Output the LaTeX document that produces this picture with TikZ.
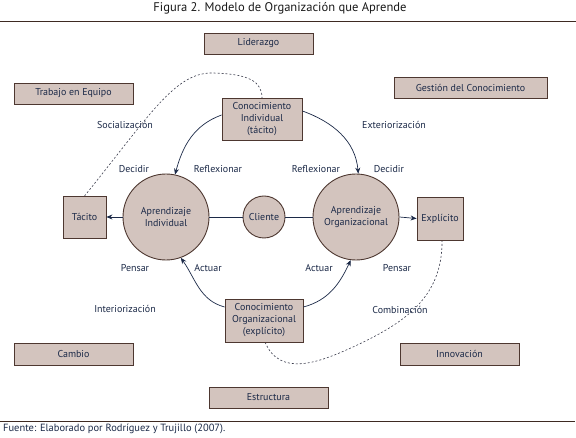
\documentclass[tikz,border=0pt]{standalone}
\usepackage{fontspec}
\setmainfont{PT Sans}
\usetikzlibrary{arrows.meta}
\definecolor{boxfill}{RGB}{211,196,190}
\definecolor{boxdraw}{RGB}{77,55,48}
\definecolor{navy}{RGB}{28,42,72}
\definecolor{rulec}{RGB}{62,42,34}
\definecolor{dashc}{RGB}{60,62,78}
\tikzset{
  base/.style={font=\fontsize{10}{12}\selectfont, text=navy, align=center, inner sep=0pt},
  boxn/.style={base, draw=boxdraw, fill=boxfill, line width=0.9pt, rectangle},
  circn/.style={base, draw=boxdraw, fill=boxfill, line width=0.9pt, circle},
  lbl/.style={base},
  arr/.style={draw=navy, line width=0.7pt, -{Stealth[length=6pt,width=5pt]}},
  link/.style={draw=navy, line width=0.7pt},
  dashline/.style={draw=dashc, line width=0.6pt, dash pattern=on 2pt off 2pt}
}
\begin{document}
\begin{tikzpicture}[x=1bp,y=-1bp]
\useasboundingbox[fill=white] (0,0) rectangle (576,438);
% title and rules
\node[font=\fontsize{12.6}{14}\selectfont, text=black!90, inner sep=0pt] (title) at (280,8) {Figura 2. Modelo de Organización que Aprende};
\draw[rulec, line width=0.9pt] (0,21) -- (576,21);
\draw[rulec, line width=0.9pt] (0,421) -- (575,421);
\node[base, font=\fontsize{10.5}{12}\selectfont, anchor=west] (src) at (3,428.5) {Fuente: Elaborado por Rodríguez y Trujillo (2007).};
% outer boxes
\node[boxn, minimum width=109bp, minimum height=21bp] (lid) at (258.5,43.5) {Liderazgo};
\node[boxn, minimum width=119bp, minimum height=21bp] (trab) at (73.5,93.5) {Trabajo en Equipo};
\node[boxn, minimum width=153bp, minimum height=21bp] (gest) at (470.5,87.5) {Gestión del Conocimiento};
\node[boxn, minimum width=119bp, minimum height=22bp] (camb) at (73.5,354) {Cambio};
\node[boxn, minimum width=119bp, minimum height=22bp] (inno) at (459.5,354) {Innovación};
\node[boxn, minimum width=119bp, minimum height=21bp] (estr) at (268.5,397.5) {Estructura};
% dashed curves (behind)
\draw[dashline] (84.5,196) .. controls (150,115) and (175,72) .. (213,73) .. controls (250,74) and (262,82) .. (262,98);
\draw[dashline] (442,240) .. controls (443,300) and (400,325) .. (353,347) .. controls (320,362) and (280,378) .. (265,342);
% central nodes
\node[boxn, minimum width=80bp, minimum height=42bp] (ci) at (262,119) {Conocimiento\\Individual\\(tácito)};
\node[boxn, minimum width=78bp, minimum height=43bp] (co) at (264,320.5) {Conocimiento\\Organizacional\\(explícito)};
\node[boxn, minimum width=43bp, minimum height=42bp] (tac) at (84.5,217) {Tácito};
\node[boxn, minimum width=46bp, minimum height=43bp] (exp) at (440,218.5) {Explícito};
\node[circn, minimum size=86bp] (ai) at (166,217) {Aprendizaje\\Individual};
\node[circn, minimum size=42bp] (cli) at (264,217) {Cliente};
\node[circn, minimum size=86bp] (ao) at (356,217) {Aprendizaje\\Organizacional};
% connectors
\draw[link] (ai.east) -- (cli.west);
\draw[link] (cli.east) -- (ao.west);
\draw[arr] (ai.west) -- (tac.east);
\draw[arr] (ao.east) -- (exp.west);
\draw[arr] (ci.west |- 0,115) to[out=200, in=75] (ai.78);
\draw[arr] (ci.east |- 0,111) to[out=-20, in=95] (ao.87);
\draw[arr] (co.west |- 0,307) to[out=165, in=-55] (ai.-70);
\draw[arr] (co.east |- 0,307) to[out=15, in=-115] (ao.-97);
% labels
\node[lbl] (soc) at (125,125) {Socialización};
\node[lbl] (ext) at (394,125) {Exteriorización};
\node[lbl] (int) at (125,309) {Interiorización};
\node[lbl] (comb) at (400,310) {Combinación};
\node[lbl] (dec1) at (134,169) {Decidir};
\node[lbl] (ref1) at (218,169) {Reflexionar};
\node[lbl] (ref2) at (316,169) {Reflexionar};
\node[lbl] (dec2) at (389,169) {Decidir};
\node[lbl] (pen1) at (135,268) {Pensar};
\node[lbl] (act1) at (208,268) {Actuar};
\node[lbl] (act2) at (319,268) {Actuar};
\node[lbl] (pen2) at (397,268) {Pensar};
\end{tikzpicture}
\end{document}
